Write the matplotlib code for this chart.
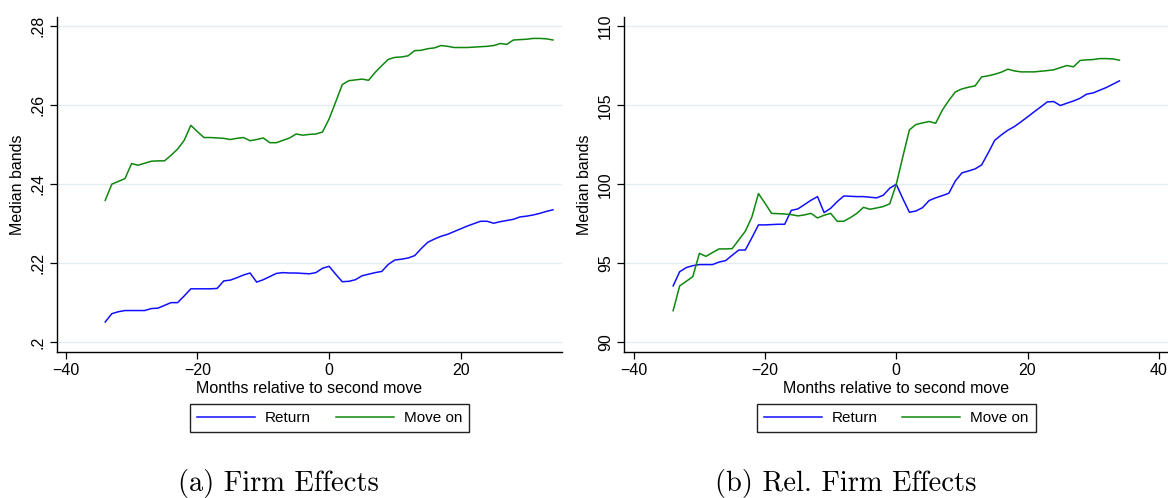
import matplotlib
matplotlib.use("Agg")
import matplotlib.pyplot as plt
import numpy as np

months = list(range(-34, 35))

firm_return = [0.2051, 0.2072, 0.2077, 0.2080, 0.2080, 0.2080, 0.2080, 0.2085, 0.2086, 0.2093,
               0.2100, 0.2100, 0.2117, 0.2135, 0.2135, 0.2135, 0.2135, 0.2136, 0.2155, 0.2157,
               0.2163, 0.2170, 0.2175, 0.2152, 0.2158, 0.2166, 0.2174, 0.2176, 0.2175, 0.2175,
               0.2174, 0.2173, 0.2176, 0.2187, 0.2192, 0.2172, 0.2153, 0.2154, 0.2158, 0.2168,
               0.2172, 0.2176, 0.2179, 0.2197, 0.2208, 0.2210, 0.2213, 0.2219, 0.2237, 0.2253,
               0.2261, 0.2268, 0.2273, 0.2280, 0.2287, 0.2294, 0.2300, 0.2306, 0.2306, 0.2301,
               0.2305, 0.2308, 0.2311, 0.2317, 0.2319, 0.2322, 0.2326, 0.2331, 0.2335]

firm_moveon = [0.2359, 0.2400, 0.2407, 0.2414, 0.2452, 0.2448, 0.2453, 0.2458, 0.2459, 0.2459,
               0.2473, 0.2489, 0.2511, 0.2549, 0.2533, 0.2518, 0.2518, 0.2517, 0.2516, 0.2513,
               0.2516, 0.2518, 0.2510, 0.2513, 0.2517, 0.2505, 0.2505, 0.2511, 0.2517, 0.2527,
               0.2524, 0.2526, 0.2527, 0.2532, 0.2565, 0.2608, 0.2652, 0.2662, 0.2664, 0.2666,
               0.2663, 0.2683, 0.2700, 0.2716, 0.2721, 0.2722, 0.2725, 0.2738, 0.2739, 0.2743,
               0.2745, 0.2751, 0.2749, 0.2746, 0.2746, 0.2746, 0.2747, 0.2748, 0.2749, 0.2751,
               0.2756, 0.2754, 0.2765, 0.2766, 0.2767, 0.2769, 0.2769, 0.2768, 0.2765]

rel_return = [93.57, 94.47, 94.73, 94.85, 94.92, 94.92, 94.92, 95.08, 95.17, 95.51,
              95.84, 95.84, 96.62, 97.43, 97.43, 97.45, 97.47, 97.47, 98.35, 98.44,
              98.71, 98.99, 99.22, 98.21, 98.48, 98.90, 99.26, 99.24, 99.22, 99.22,
              99.18, 99.14, 99.30, 99.75, 100.00, 99.09, 98.23, 98.31, 98.52, 98.97,
              99.14, 99.28, 99.43, 100.21, 100.72, 100.84, 100.97, 101.22, 101.98, 102.78,
              103.12, 103.42, 103.65, 103.95, 104.26, 104.58, 104.89, 105.21, 105.23, 104.98,
              105.13, 105.27, 105.44, 105.70, 105.78, 105.95, 106.12, 106.33, 106.54]

rel_moveon = [92.00, 93.57, 93.86, 94.16, 95.63, 95.44, 95.68, 95.91, 95.91, 95.93,
              96.48, 97.03, 97.93, 99.41, 98.80, 98.16, 98.14, 98.12, 98.08, 98.00,
              98.06, 98.16, 97.87, 98.04, 98.16, 97.66, 97.66, 97.89, 98.16, 98.54,
              98.42, 98.50, 98.59, 98.76, 100.00, 101.75, 103.44, 103.78, 103.88, 103.97,
              103.86, 104.68, 105.30, 105.84, 106.03, 106.14, 106.22, 106.79, 106.86, 106.96,
              107.09, 107.28, 107.17, 107.11, 107.11, 107.11, 107.15, 107.19, 107.24, 107.38,
              107.51, 107.43, 107.83, 107.87, 107.89, 107.95, 107.95, 107.93, 107.85]

left_yticks = [0.20, 0.22, 0.24, 0.26, 0.28]
left_yticklabels = [".2", ".22", ".24", ".26", ".28"]
left_xticks = [-40, -20, 0, 20]
right_yticks = [90, 95, 100, 105, 110]
right_yticklabels = ["90", "95", "100", "105", "110"]
right_xticks = [-40, -20, 0, 20, 40]
series_labels = ["Return", "Move on"]
captions = ["(a) Firm Effects", "(b) Rel. Firm Effects"]
xlabel = "Months relative to second move"
ylabel = "Median bands"

plt.rcParams['font.family'] = ['Liberation Sans', 'DejaVu Sans']

W, H = 1168, 498
fig = plt.figure(figsize=(W / 100, H / 100), dpi=100)

BLUE = "#1010ff"
GREEN = "#0f870f"
GRID = "#e3ecf0"
FS = 11.5
LFS = 11


def fx(px):
    return px / W


def fy(py):
    return 1 - py / H


def setup(ax, xlim, ylim, xticks, yticks, yticklabels):
    ax.set_xlim(*xlim)
    ax.set_ylim(*ylim)
    ax.set_xticks(xticks)
    ax.set_xticklabels([str(t).replace("-", "\u2212") for t in xticks], fontsize=FS)
    ax.set_yticks(yticks)
    ax.set_yticklabels(yticklabels, fontsize=FS, rotation=90, va="center")
    for s in ["top", "right"]:
        ax.spines[s].set_visible(False)
    for s in ["left", "bottom"]:
        ax.spines[s].set_linewidth(1.0)
        ax.spines[s].set_color("black")
    ax.tick_params(direction="out", length=5, width=0.9, pad=3)
    ax.grid(axis="y", color=GRID, linewidth=1.0)
    ax.set_axisbelow(True)
    ax.set_xlabel(xlabel, fontsize=FS, labelpad=2)
    ax.set_ylabel(ylabel, fontsize=FS, labelpad=4)


# Left panel
ax1 = fig.add_axes([fx(56.5), fy(352), fx(561.5) - fx(56.5), fy(16.7) - fy(352)])
l1, = ax1.plot(months, firm_return, color=BLUE, lw=1.1)
l2, = ax1.plot(months, firm_moveon, color=GREEN, lw=1.1)
setup(ax1, (-41.4, 35.3), (0.1975, 0.2824), left_xticks, left_yticks, left_yticklabels)

# Right panel
ax2 = fig.add_axes([fx(623.9), fy(352), 1 - fx(623.9), fy(16.7) - fy(352)])
ax2.plot(months, rel_return, color=BLUE, lw=1.1)
ax2.plot(months, rel_moveon, color=GREEN, lw=1.1)
setup(ax2, (-41.5, 41.4), (89.39, 110.6), right_xticks, right_yticks, right_yticklabels)

for cx in [329.5, 896.3]:
    leg = fig.legend([l1, l2], series_labels, loc="center",
                     bbox_to_anchor=(fx(cx), fy(418)), ncol=2, fontsize=LFS,
                     frameon=True, fancybox=False, edgecolor="#222222", framealpha=1,
                     handlelength=3.8, handletextpad=0.65, columnspacing=1.6,
                     borderpad=0.45, borderaxespad=0)
    leg.get_frame().set_linewidth(1.0)

fig.text(fx(278.5), fy(483), captions[0], ha="center", va="center", fontsize=20.5,
         family=["cmr10", "DejaVu Serif"])
fig.text(fx(845.5), fy(483), captions[1], ha="center", va="center", fontsize=20.5,
         family=["cmr10", "DejaVu Serif"])

fig.savefig("out.png", dpi=100)
